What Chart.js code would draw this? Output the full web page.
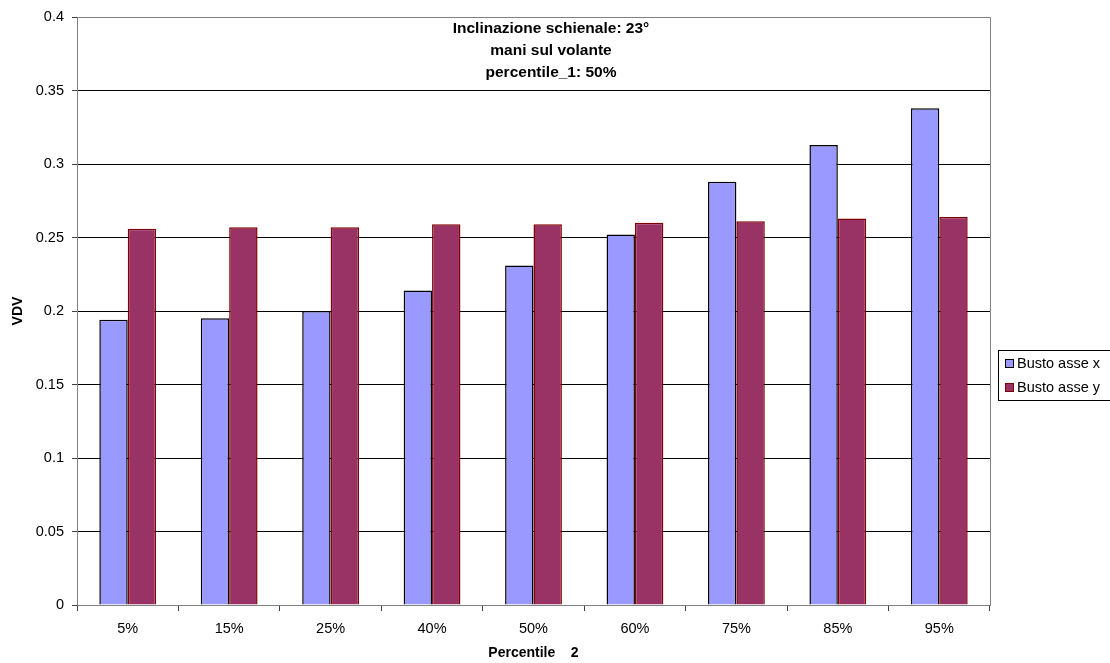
<!DOCTYPE html>
<html>
<head>
<meta charset="utf-8">
<script src="https://cdn.jsdelivr.net/npm/chart.js@4/dist/chart.umd.min.js"></script>
<style>
  html, body { margin: 0; padding: 0; background: #ffffff; }
  #wrap { width: 1110px; height: 663px; position: relative; }
</style>
</head>
<body>
<div id="wrap"><canvas id="chart" width="1110" height="663"></canvas></div>
<script>
// Categories along the x axis (second percentile)
const categories = ['5%', '15%', '25%', '40%', '50%', '60%', '75%', '85%', '95%'];

// VDV values for each series
const bustoAsseX = [0.194, 0.195, 0.200, 0.214, 0.231, 0.252, 0.288, 0.313, 0.338];
const bustoAsseY = [0.256, 0.257, 0.257, 0.259, 0.259, 0.260, 0.261, 0.263, 0.264];

const seriesNames = ['Busto asse x', 'Busto asse y'];

// Y axis tick labels
const yTickLabels = ['0', '0.05', '0.1', '0.15', '0.2', '0.25', '0.3', '0.35', '0.4'];

// Title lines shown inside the plot area
const titleLines = ['Inclinazione schienale: 23°', 'mani sul volante', 'percentile_1: 50%'];

const FONT = '"Liberation Sans", Arial, sans-serif';

// Gray frame on top/right of the plot area, plus the in-plot title
const framePlugin = {
  id: 'frameAndTitle',
  afterDraw(chart) {
    const { ctx, chartArea: a } = chart;
    ctx.save();
    ctx.strokeStyle = '#808080';
    ctx.lineWidth = 1;
    ctx.beginPath();
    ctx.moveTo(Math.round(a.left) + 0.5, Math.round(a.top) + 0.5);
    ctx.lineTo(Math.round(a.right) + 0.5, Math.round(a.top) + 0.5);
    ctx.lineTo(Math.round(a.right) + 0.5, Math.round(a.bottom) + 0.5);
    ctx.stroke();

    ctx.fillStyle = '#000';
    ctx.font = 'bold 15.5px ' + FONT;
    ctx.textAlign = 'center';
    ctx.textBaseline = 'alphabetic';
    const cx = 551;
    titleLines.forEach((t, i) => ctx.fillText(t, cx, 33 + i * 22));
    ctx.restore();
  }
};

// Boxed legend to the right of the plot
const legendPlugin = {
  id: 'boxLegend',
  afterDraw(chart) {
    const { ctx } = chart;
    ctx.save();
    ctx.strokeStyle = '#000';
    ctx.lineWidth = 1;
    ctx.strokeRect(998.5, 350.5, 130, 50);
    ctx.font = '14.5px ' + FONT;
    ctx.textAlign = 'left';
    ctx.textBaseline = 'middle';
    chart.data.datasets.forEach((ds, i) => {
      const cy = 363 + i * 24;
      ctx.fillStyle = ds.backgroundColor;
      ctx.fillRect(1005, cy - 4, 9, 9);
      ctx.strokeStyle = ds.borderColor;
      ctx.strokeRect(1005.5, cy - 3.5, 8, 8);
      ctx.fillStyle = '#000';
      ctx.fillText(ds.label, 1017, cy + 1);
    });
    ctx.restore();
  }
};

new Chart(document.getElementById('chart'), {
  type: 'bar',
  data: {
    labels: categories,
    datasets: [
      {
        label: seriesNames[0],
        data: bustoAsseX,
        backgroundColor: '#9999FF',
        borderColor: '#000000',
        borderWidth: 1.5
      },
      {
        label: seriesNames[1],
        data: bustoAsseY,
        backgroundColor: '#993366',
        borderColor: '#800000',
        borderWidth: 1.5
      }
    ]
  },
  options: {
    responsive: false,
    animation: false,
    devicePixelRatio: 1,
    layout: { padding: { top: 17, right: 120, left: 0, bottom: 0 } },
    datasets: { bar: { categoryPercentage: 0.56, barPercentage: 1.0 } },
    plugins: {
      legend: { display: false },
      title: { display: false },
      tooltip: { enabled: false }
    },
    scales: {
      x: {
        offset: true,
        grid: {
          display: true,
          offset: true,
          drawOnChartArea: false,
          drawTicks: true,
          tickLength: 6,
          tickColor: '#404040'
        },
        border: { display: true, color: '#808080', width: 1 },
        ticks: {
          color: '#000',
          font: { family: FONT, size: 14.5 },
          padding: 9,
          maxRotation: 0,
          autoSkip: false
        },
        title: {
          display: true,
          text: 'Percentile    2',
          color: '#000',
          font: { family: FONT, size: 14, weight: 'bold' },
          padding: { top: 0, bottom: 1 }
        },
        afterFit(scale) { scale.height = 58; }
      },
      y: {
        min: 0,
        max: 0.4,
        ticks: {
          stepSize: 0.05,
          color: '#000',
          font: { family: FONT, size: 14.5 },
          padding: 8,
          callback: (v, i) => yTickLabels[i]
        },
        grid: {
          color: '#000000',
          lineWidth: 1,
          drawTicks: true,
          tickLength: 5,
          tickColor: '#404040'
        },
        border: { display: true, color: '#808080', width: 1 },
        title: {
          display: true,
          text: 'VDV',
          color: '#000',
          font: { family: FONT, size: 14, weight: 'bold' },
          padding: { top: 10, bottom: 0 }
        },
        afterFit(scale) { scale.width = 77; }
      }
    }
  },
  plugins: [framePlugin, legendPlugin]
});
</script>
</body>
</html>
